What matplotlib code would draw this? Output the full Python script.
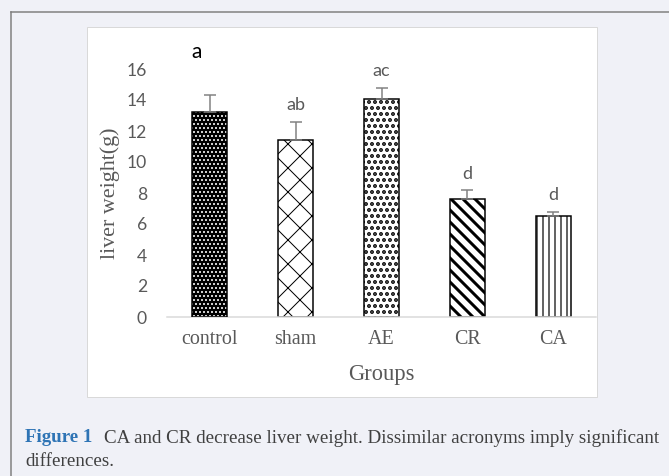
import numpy as np
import matplotlib
matplotlib.use('Agg')
import matplotlib.pyplot as plt
from matplotlib.patches import Rectangle
from matplotlib.lines import Line2D

groups = ['control', 'sham', 'AE', 'CR', 'CA']
means = [13.2, 11.4, 14.05, 7.6, 6.5]
sd = [1.1, 1.2, 0.75, 0.6, 0.3]
letters = ['a', 'ab', 'ac', 'd', 'd']
yticks = [0, 2, 4, 6, 8, 10, 12, 14, 16]

W, H = 669, 476
fig = plt.figure(figsize=(W / 72, H / 72), dpi=72)
fig.patch.set_facecolor('#f0f1f7')

# outer frame lines (left + top) and white chart box
fig.add_artist(Line2D([11 / W, 11 / W], [0, 1 - 12 / H], color='#7f7f7f', lw=1.5, transform=fig.transFigure))
fig.add_artist(Line2D([11 / W, 1], [1 - 12 / H, 1 - 12 / H], color='#7f7f7f', lw=1.5, transform=fig.transFigure))
fig.add_artist(Rectangle((87 / W, 1 - 397 / H), (597 - 87) / W, (397 - 27) / H, transform=fig.transFigure,
                         facecolor='white', edgecolor='#d9d9d9', lw=1, zorder=-1))

ax = fig.add_axes([167 / W, 1 - 317 / H, (596 - 167) / W, (317 - 38) / H])
ax.set_facecolor('none')
x = np.arange(len(groups))
bw = 0.41
grey = '#595959'

# control: black with white dots
plt.rcParams['hatch.linewidth'] = 1.2
ax.bar(x[0], means[0], bw, facecolor='black', edgecolor='white', hatch='...', lw=0, zorder=2)
ax.bar(x[0], means[0], bw, facecolor='none', edgecolor='black', lw=1.5, zorder=3)
# sham: cross hatch
plt.rcParams['hatch.linewidth'] = 1.0
ax.bar(x[1], means[1], bw, facecolor='white', edgecolor='black', hatch='x', lw=1.5, zorder=2)
# AE: dots
plt.rcParams['hatch.linewidth'] = 2.6
ax.bar(x[2], means[2], bw, facecolor='white', edgecolor='black', hatch='..', lw=1.5, zorder=2)
# CR: diagonal stripes
plt.rcParams['hatch.linewidth'] = 3.0
ax.bar(x[3], means[3], bw, facecolor='white', edgecolor='black', hatch='\\\\', lw=1.5, zorder=2)
# CA: vertical stripes
plt.rcParams['hatch.linewidth'] = 1.2
ax.bar(x[4], means[4], bw, facecolor='white', edgecolor='black', hatch='||', lw=1.5, zorder=2)

ax.errorbar(x, means, yerr=[np.zeros(len(sd)), sd], fmt='none', ecolor='#808080',
            elinewidth=1.5, capsize=6, capthick=1.5, zorder=4)

for i, lab in enumerate(letters):
    top = means[i] + sd[i]
    if i == 0:
        ax.text(x[i] - 0.15, top + 2.8, lab, ha='center', va='center', fontsize=21,
                color='black', family='Lato')
    else:
        ax.text(x[i], top + 1.05, lab, ha='center', va='center', fontsize=18,
                color=grey, family='Lato')

ax.set_xlim(-0.5, len(groups) - 0.5)
ax.set_ylim(0, 18)
ax.set_yticks(yticks)
ax.set_yticklabels([str(t) for t in yticks], family='Lato', fontsize=17.5, color=grey)
ax.set_xticks(x)
ax.set_xticklabels(groups, family='Liberation Serif', fontsize=20, color=grey)
ax.tick_params(axis='y', length=0, pad=20)
ax.tick_params(axis='x', length=0, pad=13)
for s in ['top', 'right', 'left']:
    ax.spines[s].set_visible(False)
ax.spines['bottom'].set_color('#d9d9d9')
ax.spines['bottom'].set_linewidth(1.5)

ax.set_ylabel('liver weight(g)', family='Liberation Serif', fontsize=22, color=grey)
ax.yaxis.set_label_coords(-0.11, 0.444)
ax.set_xlabel('Groups', family='Liberation Serif', fontsize=22.5, color=grey)
ax.xaxis.set_label_coords(0.499, -0.17)

# caption
fig.text(25 / W, 1 - 438 / H, 'Figure 1', color='#2e74b5', fontsize=19, fontweight='bold',
         family='Liberation Serif', va='center')
fig.text(104 / W, 1 - 438 / H, 'CA and CR decrease liver weight. Dissimilar acronyms imply significant',
         color='#404040', fontsize=19, family='Liberation Serif', va='center')
fig.text(25 / W, 1 - 461 / H, 'differences.', color='#404040', fontsize=19,
         family='Liberation Serif', va='center')

fig.savefig('out.png', dpi=72, facecolor=fig.get_facecolor())
